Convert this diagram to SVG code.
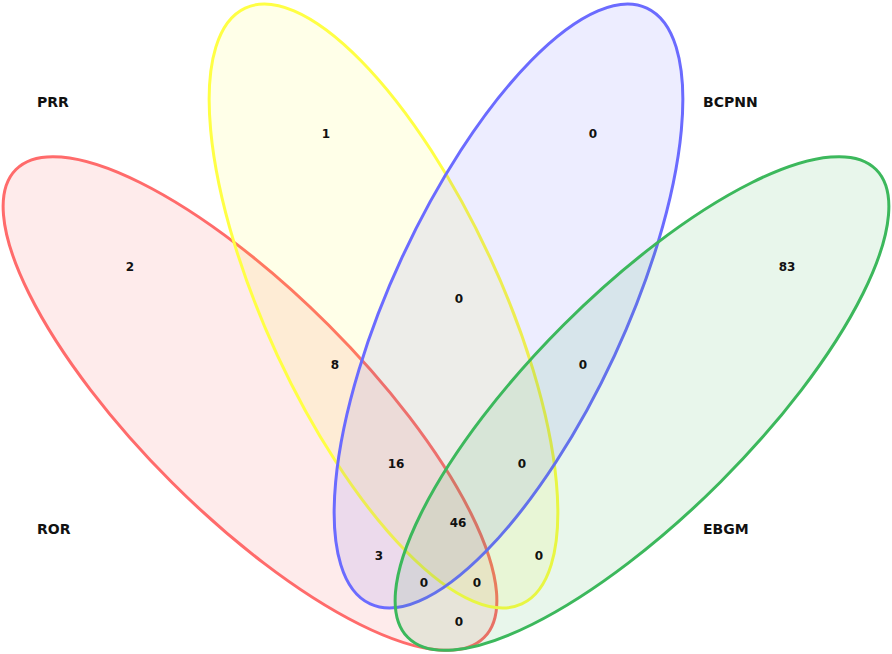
<svg xmlns="http://www.w3.org/2000/svg" width="892" height="654" viewBox="0 0 892 654">
<style>
.set{stroke-width:3}
.num{font-family:"DejaVu Sans","Open Sans",sans-serif;font-size:12px;font-weight:bold;fill:#111;text-anchor:middle}
.lbl{font-family:"DejaVu Sans","Open Sans",sans-serif;font-size:14px;font-weight:bold;fill:#111}
</style>
<rect width="892" height="654" fill="#ffffff"/>
<g id="ROR">
<ellipse class="set" cx="250" cy="403.5" rx="331" ry="111" transform="rotate(45 250 403.5)" fill="rgba(240,20,20,0.085)" stroke="#ff6b6b"/>
</g>
<g id="PRR">
<ellipse class="set" cx="383.5" cy="306" rx="328.5" ry="117" transform="rotate(65.1 383.5 306)" fill="rgba(255,255,0,0.09)" stroke="#ffff44"/>
</g>
<g id="BCPNN">
<ellipse class="set" cx="508.5" cy="306" rx="328.5" ry="117" transform="rotate(-65.1 508.5 306)" fill="rgba(20,20,255,0.08)" stroke="#6b6bff"/>
</g>
<g id="EBGM">
<ellipse class="set" cx="642" cy="403.5" rx="331" ry="111" transform="rotate(-45 642 403.5)" fill="rgba(30,170,60,0.1)" stroke="#3cb85c"/>
</g>
<g id="labels">
<text class="lbl" x="37" y="107">PRR</text>
<text class="lbl" x="703" y="107">BCPNN</text>
<text class="lbl" x="37" y="534">ROR</text>
<text class="lbl" x="703" y="534">EBGM</text>
</g>
<g id="counts">
<text class="num" x="326" y="138">1</text>
<text class="num" x="593" y="138">0</text>
<text class="num" x="130" y="271">2</text>
<text class="num" x="787" y="271">83</text>
<text class="num" x="459" y="303">0</text>
<text class="num" x="335" y="369">8</text>
<text class="num" x="583" y="369">0</text>
<text class="num" x="396" y="468">16</text>
<text class="num" x="522" y="468">0</text>
<text class="num" x="458" y="527">46</text>
<text class="num" x="379" y="560">3</text>
<text class="num" x="539" y="560">0</text>
<text class="num" x="424" y="587">0</text>
<text class="num" x="477" y="587">0</text>
<text class="num" x="459" y="626">0</text>
</g>
</svg>
